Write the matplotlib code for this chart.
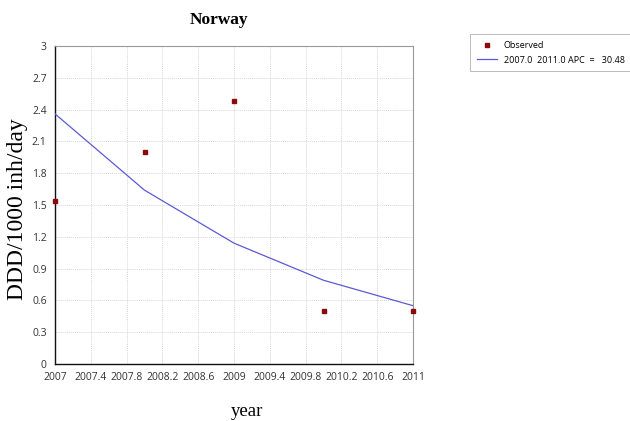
import matplotlib
matplotlib.use("Agg")
import matplotlib.pyplot as plt
import numpy as np

years = [2007, 2008, 2009, 2010, 2011]
observed = [1.54, 2.00, 2.48, 0.50, 0.50]
fitted = [2.36, 1.64, 1.14, 0.79, 0.55]
x_ticks = [2007, 2007.4, 2007.8, 2008.2, 2008.6, 2009, 2009.4, 2009.8, 2010.2, 2010.6, 2011]
x_tick_labels = ["2007", "2007.4", "2007.8", "2008.2", "2008.6", "2009",
                 "2009.4", "2009.8", "2010.2", "2010.6", "2011"]
y_ticks = [0, 0.3, 0.6, 0.9, 1.2, 1.5, 1.8, 2.1, 2.4, 2.7, 3]
y_tick_labels = ["0", "0.3", "0.6", "0.9", "1.2", "1.5", "1.8", "2.1", "2.4", "2.7", "3"]

fig = plt.figure(figsize=(6.3, 4.21), dpi=100)
ax = fig.add_axes([0.0873, 0.1354, 0.5683, 0.7553])

ax.plot(years, fitted, color="#5a5ad6", lw=0.9, label="2007.0  2011.0 APC  =   30.48", zorder=3)
ax.plot(years, observed, ls="none", marker="s", ms=3.2, color="#8b0a0a",
        label="Observed", zorder=4, clip_on=False)

ax.set_xlim(2007, 2011)
ax.set_ylim(0, 3)
ax.set_xticks(x_ticks)
ax.set_xticklabels(x_tick_labels, fontfamily="Open Sans", fontsize=7.5, color="#333333")
ax.set_yticks(y_ticks)
ax.set_yticklabels(y_tick_labels, fontfamily="Open Sans", fontsize=7.5, color="#333333")
ax.tick_params(length=0, pad=6)
ax.grid(True, color="#d8d8d8", lw=0.7, ls=(0, (1, 1)))
ax.set_axisbelow(True)

for side in ("left", "bottom"):
    ax.spines[side].set_color("#111111")
    ax.spines[side].set_linewidth(1.0)
for side in ("top", "right"):
    ax.spines[side].set_color("#999999")
    ax.spines[side].set_linewidth(0.8)

fig.text(219 / 630, 1 - 20 / 421, "Norway", ha="center", va="center",
         fontfamily="Liberation Serif", fontweight="bold", fontsize=12.5)
fig.text(18 / 630, 1 - 209 / 421, "DDD/1000 inh/day", ha="center", va="center",
         rotation=90, fontfamily="Liberation Serif", fontsize=17)
fig.text(247 / 630, 1 - 411 / 421, "year", ha="center", va="center",
         fontfamily="Liberation Serif", fontsize=13.5)

handles, labels = ax.get_legend_handles_labels()
leg = fig.legend(handles[::-1], labels[::-1], loc="upper left",
                 bbox_to_anchor=(470 / 630, 1 - 34 / 421), borderaxespad=0,
                 prop={"family": "Open Sans", "size": 6.5},
                 frameon=True, fancybox=False, edgecolor="#aaaaaa",
                 handlelength=2.2, handletextpad=0.8, borderpad=0.75,
                 labelspacing=0.65, markerscale=0.8)
leg.get_frame().set_linewidth(0.7)

fig.savefig("out.png", dpi=100)
